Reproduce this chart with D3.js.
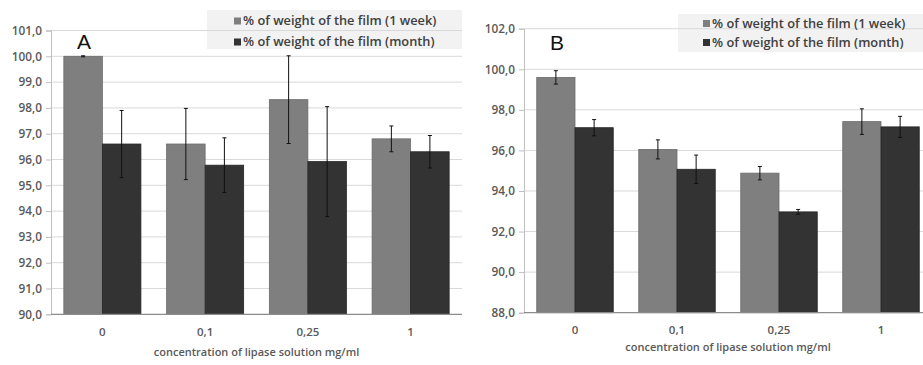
<!DOCTYPE html>
<html>
<head>
<meta charset="utf-8">
<script src="https://cdn.jsdelivr.net/npm/d3@7"></script>
<style>
  html, body { margin: 0; padding: 0; background: #fff; }
  svg { display: block; font-family: "Open Sans", "Noto Sans", sans-serif; }
</style>
</head>
<body>
<svg id="chart" width="923" height="365"></svg>
<script>
// Concentrations of the lipase solution (mg/ml)
const categories = ["0", "0,1", "0,25", "1"];
const seriesNames = ["% of weight of the film (1 week)", "% of weight of the film (month)"];

// Panel A: remaining film weight, %
const weekA = [100.0, 96.6, 98.32, 96.8];
const weekErrA = [0.02, 1.38, 1.7, 0.5];
const monthA = [96.6, 95.78, 95.92, 96.3];
const monthErrA = [1.3, 1.06, 2.13, 0.63];
const ticksA = [90, 91, 92, 93, 94, 95, 96, 97, 98, 99, 100, 101];

// Panel B: remaining film weight, %
const weekB = [99.6, 96.05, 94.88, 97.42];
const weekErrB = [0.33, 0.47, 0.33, 0.63];
const monthB = [97.12, 95.07, 92.97, 97.16];
const monthErrB = [0.4, 0.7, 0.12, 0.52];
const ticksB = [88, 90, 92, 94, 96, 98, 100, 102];

const xTitle = "concentration of lipase solution mg/ml";
const colors = ["#7f7f7f", "#333333"];
const strokes = ["#6b6b6b", "#262626"];

const svg = d3.select("#chart");

function panel(opt) {
  const g = svg.append("g");
  const x = d3.scaleBand().domain(categories).range(opt.xRange)
    .paddingInner(0.25).paddingOuter(0.125);
  const xs = d3.scaleBand().domain([0, 1]).range([0, x.bandwidth()]).padding(0);
  const y = d3.scaleLinear().domain(opt.yDomain).range(opt.yRange);

  // legend background
  g.append("rect")
    .attr("x", opt.legend.x).attr("y", opt.legend.y)
    .attr("width", opt.legend.w).attr("height", opt.legend.h)
    .attr("fill", "#f2f2f2");

  // horizontal gridlines
  g.append("g").selectAll("line").data(opt.ticks.slice(1)).join("line")
    .attr("x1", opt.xRange[0]).attr("x2", opt.xRange[1])
    .attr("y1", d => y(d)).attr("y2", d => y(d))
    .attr("stroke", "#d9d9d9").attr("stroke-width", 1);

  // y axis
  const yAxis = d3.axisLeft(y).tickValues(opt.ticks)
    .tickFormat(d => d3.format(".1f")(d).replace(".", ","))
    .tickSize(5).tickPadding(4);
  const ya = g.append("g").attr("transform", `translate(${opt.xRange[0]},0)`).call(yAxis);
  ya.select(".domain").attr("stroke", "#bfbfbf");
  ya.selectAll(".tick line").attr("stroke", "#bfbfbf");
  ya.selectAll(".tick text").attr("fill", "#595959")
    .attr("font-size", 11.8).attr("font-weight", 600)
    .attr("font-family", "'Open Sans', sans-serif");

  const series = [
    { vals: opt.week, errs: opt.weekErr },
    { vals: opt.month, errs: opt.monthErr }
  ];
  const base = opt.yDomain[0];

  series.forEach((s, si) => {
    g.append("g").selectAll("rect").data(categories).join("rect")
      .attr("x", (c) => x(c) + xs(si))
      .attr("y", (c, i) => y(s.vals[i]))
      .attr("width", xs.bandwidth())
      .attr("height", (c, i) => y(base) - y(s.vals[i]))
      .attr("fill", colors[si])
      .attr("stroke", strokes[si]).attr("stroke-width", 0.8);
  });

  // error bars
  series.forEach((s, si) => {
    const eg = g.append("g").attr("stroke", "#111").attr("stroke-width", 1);
    categories.forEach((c, i) => {
      const cx = x(c) + xs(si) + xs.bandwidth() / 2;
      const hi = y(s.vals[i] + s.errs[i]);
      const lo = y(s.vals[i] - s.errs[i]);
      eg.append("line").attr("x1", cx).attr("x2", cx).attr("y1", hi).attr("y2", lo);
      eg.append("line").attr("x1", cx - 2).attr("x2", cx + 2).attr("y1", hi).attr("y2", hi);
      eg.append("line").attr("x1", cx - 2).attr("x2", cx + 2).attr("y1", lo).attr("y2", lo);
    });
  });

  // x axis baseline and labels
  g.append("line")
    .attr("x1", opt.xRange[0]).attr("x2", opt.xRange[1])
    .attr("y1", y(base)).attr("y2", y(base))
    .attr("stroke", "#8c8c8c").attr("stroke-width", 1.2);
  g.append("g").selectAll("text").data(categories).join("text")
    .attr("x", c => x(c) + x.bandwidth() / 2)
    .attr("y", opt.xLabelY)
    .attr("text-anchor", "middle")
    .attr("fill", "#595959").attr("font-size", 11.5).attr("font-weight", 600)
    .text(c => c);
  g.append("text")
    .attr("x", (opt.xRange[0] + opt.xRange[1]) / 2)
    .attr("y", opt.titleY)
    .attr("text-anchor", "middle")
    .attr("fill", "#595959").attr("font-size", 11).attr("font-weight", 600)
    .text(xTitle);

  // legend entries
  seriesNames.forEach((name, i) => {
    const ly = opt.legend.rowY[i];
    g.append("rect")
      .attr("x", opt.legend.sx).attr("y", ly - 3.5)
      .attr("width", 7).attr("height", 7)
      .attr("fill", colors[i]);
    g.append("text")
      .attr("x", opt.legend.sx + 9).attr("y", ly)
      .attr("dy", "0.35em")
      .attr("fill", "#404040").attr("font-size", 12.8).attr("font-weight", 600)
      .text(name);
  });

  // panel letter
  g.append("text")
    .attr("x", opt.letter.x).attr("y", opt.letter.y)
    .attr("text-anchor", "middle")
    .attr("fill", "#111").attr("font-size", 21)
    .attr("font-family", "'Liberation Sans', Arial, sans-serif")
    .text(opt.letter.t);
}

panel({
  xRange: [51, 462], yDomain: [90, 101], yRange: [314.3, 30.5], ticks: ticksA,
  week: weekA, weekErr: weekErrA, month: monthA, monthErr: monthErrA,
  xLabelY: 336, titleY: 356,
  legend: { x: 207, y: 10, w: 255, h: 39, sx: 234, rowY: [21, 42] },
  letter: { x: 84, y: 49, t: "A" }
});

panel({
  xRange: [524, 932], yDomain: [88, 102], yRange: [312.7, 28.7], ticks: ticksB,
  week: weekB, weekErr: weekErrB, month: monthB, monthErr: monthErrB,
  xLabelY: 334, titleY: 351,
  legend: { x: 678, y: 14, w: 260, h: 38, sx: 703, rowY: [23.5, 42.5] },
  letter: { x: 557, y: 50, t: "B" }
});
</script>
</body>
</html>
